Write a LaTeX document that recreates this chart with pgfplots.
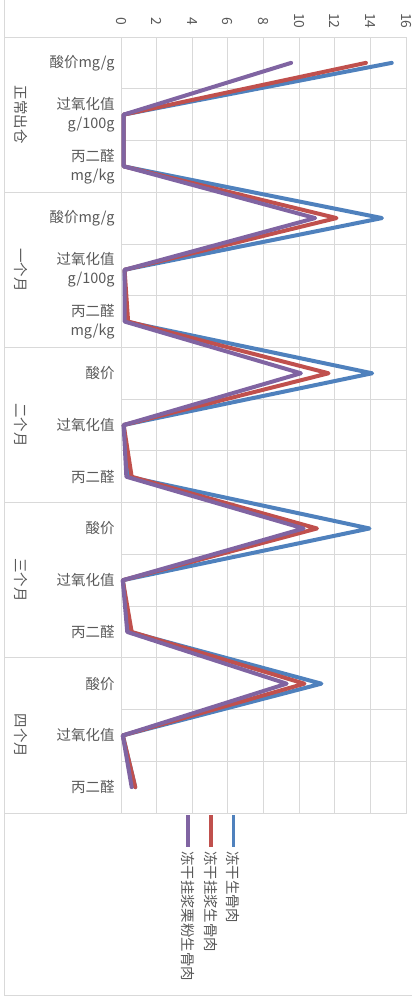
\documentclass[border=0pt]{standalone}
\usepackage{fontspec}
\setmainfont{Noto Sans CJK SC}
\usepackage{pgfplots}
\pgfplotsset{compat=1.18}
\definecolor{sblue}{HTML}{4F81BD}
\definecolor{sred}{HTML}{C0504D}
\definecolor{spurple}{HTML}{8064A2}
\definecolor{txt}{HTML}{595959}
\definecolor{grd}{HTML}{D9D9D9}

\begin{document}
\begin{tikzpicture}
\useasboundingbox (0,0) rectangle (415bp,-1000bp);
% chart frame (left and bottom visible)
\draw[grd, line width=1bp] (4bp,0) -- (4bp,-995bp) -- (412bp,-995bp);
\begin{axis}[
    at={(121bp,-813bp)}, anchor=south west,
    scale only axis, width=285bp, height=776bp,
    xmin=0, xmax=16, ymin=-14.5, ymax=0.5,
    clip=false,
    xtick={0,2,...,16},
    xticklabels={0,2,4,6,8,10,12,14,16},
    xticklabel pos=right,
    % rotated -90: the node's own x points down, so xshift<0 moves it up
    xticklabel style={rotate=-90, anchor=center, xshift=-16bp,
        font=\fontsize{14}{17}\selectfont, text=txt},
    ytick={-14,-13,...,0},
    yticklabels={丙二醛,过氧化值,酸价,丙二醛,过氧化值,酸价,丙二醛,过氧化值,酸价,
        {丙二醛\\mg/kg},{过氧化值\\g/100g},酸价mg/g,
        {丙二醛\\mg/kg},{过氧化值\\g/100g},酸价mg/g},
    yticklabel style={font=\fontsize{14.5}{19}\selectfont, text=txt, align=right, xshift=-3bp},
    minor ytick={-14.5,-13.5,...,0.5},
    xmajorgrids, yminorgrids,
    grid style={grd, line width=0.8bp},
    minor grid style={grd, line width=0.8bp},
    axis line style={grd, line width=0.8bp},
    major tick length=0, minor tick length=0,
    tick style={draw=none},
]
% 冻干生骨肉
\addplot[sblue, line width=4bp, line join=round, line cap=round] coordinates {
    (15.2,0) (0.15,-1) (0.15,-2)
    (14.65,-3) (0.2,-4) (0.25,-5)
    (14.1,-6) (0.15,-7) (0.4,-8)
    (13.95,-9) (0.1,-10) (0.5,-11)
    (11.25,-12) (0.1,-13) (0.8,-14)
};
% 冻干挂浆生骨肉
\addplot[sred, line width=4bp, line join=round, line cap=round] coordinates {
    (13.75,0) (0.15,-1) (0.15,-2)
    (12.1,-3) (0.2,-4) (0.4,-5)
    (11.65,-6) (0.15,-7) (0.6,-8)
    (11.0,-9) (0.1,-10) (0.6,-11)
    (10.3,-12) (0.1,-13) (0.8,-14)
};
% 冻干挂浆栗粉生骨肉
\addplot[spurple, line width=4bp, line join=round, line cap=round] coordinates {
    (9.55,0) (0.15,-1) (0.15,-2)
    (10.9,-3) (0.2,-4) (0.2,-5)
    (10.1,-6) (0.15,-7) (0.3,-8)
    (10.25,-9) (0.1,-10) (0.35,-11)
    (9.3,-12) (0.1,-13) (0.6,-14)
};
\end{axis}
% group separators and group labels
\foreach \k in {0,1,2,3,4,5}
  \draw[grd, line width=0.8bp] (4bp,-37bp-155.2bp*\k) -- (121bp,-37bp-155.2bp*\k);
\foreach \lab [count=\k from 0] in {正常出仓,一个月,二个月,三个月,四个月}
  \node[rotate=-90, text=txt, font=\fontsize{14.5}{17}\selectfont]
    at (21bp,-114.6bp-155.2bp*\k) {\lab};
% legend
\foreach \x/\c/\t in {233.5/sblue/冻干生骨肉, 211/sred/冻干挂浆生骨肉, 188/spurple/冻干挂浆栗粉生骨肉}{
  \draw[\c, line width=3.5bp] (\x bp,-815bp) -- (\x bp,-847bp);
  \node[rotate=-90, anchor=west, inner sep=0pt, text=txt, font=\fontsize{14.5}{17}\selectfont]
    at (\x bp,-851bp) {\t};
}
\end{tikzpicture}
\end{document}
